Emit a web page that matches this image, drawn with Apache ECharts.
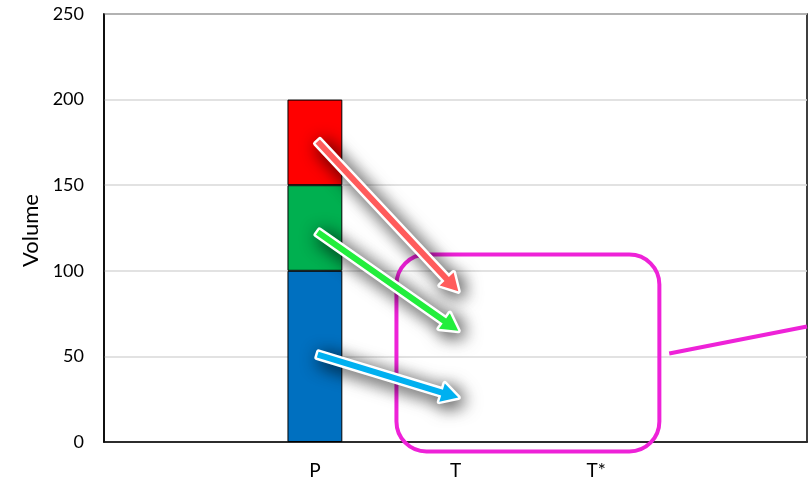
<!DOCTYPE html>
<html><head><meta charset="utf-8">
<script src="https://cdn.jsdelivr.net/npm/echarts@6/dist/echarts.min.js"></script>
<style>html,body{margin:0;padding:0;background:#fff}#c{width:808px;height:484px}</style>
</head><body><div id="c"></div>
<script>
var categories = ['', 'P', 'T', 'T*', ''];
var blueVals  = ['-', 100, '-', '-', '-'];
var greenVals = ['-', 50, '-', '-', '-'];
var redVals   = ['-', 50, '-', '-', '-'];
var yTicks = [0, 50, 100, 150, 200, 250];
// arrows: [xStart(index), yStart, xEnd(index), yEnd]
var arrowRed   = [1.02, 175.5, 2.02, 88];
var arrowGreen = [1.02, 122.5, 2.02, 65];
var arrowBlue  = [1.02, 51, 2.02, 26];
var arrowColors = ['#FF5B5B', '#22EE3C', '#00B0F0'];
// rounded box: [x0, yTop, x1, yBottom]
var boxRect = [1.58, 109.5, 3.45, -5.5];
// connector line: [x0, y0, x1, y1]
var connector = [3.52, 51.7, 4.5, 67.5];

var chart = echarts.init(document.getElementById('c'));
var FONT = 'Lato, "Open Sans", sans-serif';

function arrowPts(p0, p1, w, L, H) {
  var dx = p1[0]-p0[0], dy = p1[1]-p0[1];
  var len = Math.sqrt(dx*dx+dy*dy);
  var ux = dx/len, uy = dy/len, nx = -uy, ny = ux;
  var bx = p1[0]-ux*L, by = p1[1]-uy*L;
  return [
    [p0[0]+nx*w, p0[1]+ny*w],
    [bx+nx*w, by+ny*w],
    [bx+nx*H, by+ny*H],
    [p1[0], p1[1]],
    [bx-nx*H, by-ny*H],
    [bx-nx*w, by-ny*w],
    [p0[0]-nx*w, p0[1]-ny*w]
  ];
}

function arrowItem(params, api) {
  var p0 = api.coord([api.value(0), api.value(1)]);
  var p1 = api.coord([api.value(2), api.value(3)]);
  var pts = arrowPts(p0, p1, 3, 17, 9.5);
  return {
    type: 'group',
    children: [{
      type: 'polygon', shape: {points: pts},
      style: {fill: '#fff', stroke: '#fff', lineWidth: 5, lineJoin: 'round',
        shadowBlur: 18, shadowColor: 'rgba(0,0,0,0.7)', shadowOffsetX: 4, shadowOffsetY: 4}
    }, {
      type: 'polygon', shape: {points: pts},
      style: {fill: arrowColors[params.dataIndex], stroke: 'none'}
    }]
  };
}

function boxItem(params, api) {
  var a = api.coord([api.value(0), api.value(1)]);
  var b = api.coord([api.value(2), api.value(3)]);
  return {
    type: 'rect',
    shape: {x: a[0], y: a[1], width: b[0]-a[0], height: b[1]-a[1], r: 30},
    style: {fill: 'none', stroke: '#EE22D8', lineWidth: 4}
  };
}

function lineItem(params, api) {
  var a = api.coord([api.value(0), api.value(1)]);
  var b = api.coord([api.value(2), api.value(3)]);
  return {
    type: 'line',
    shape: {x1: a[0], y1: a[1], x2: b[0], y2: b[1]},
    style: {stroke: '#EE22D8', lineWidth: 4}
  };
}

chart.setOption({
  animation: false,
  grid: {left: 104, right: 1, top: 14, bottom: 42, show: true, borderColor: '#000', borderWidth: 1.5},
  xAxis: [{
    type: 'category', data: categories,
    axisLine: {lineStyle: {color: '#000', width: 1.5}},
    axisTick: {show: false},
    axisLabel: {color: '#000', fontSize: 19, fontFamily: FONT, margin: 19}
  }, {
    type: 'value', min: -0.5, max: 4.5, show: false
  }],
  yAxis: {
    type: 'value', min: yTicks[0], max: yTicks[yTicks.length-1], interval: 50,
    name: 'Volume', nameLocation: 'middle', nameGap: 54, nameRotate: 90,
    nameTextStyle: {color: '#000', fontSize: 22, fontFamily: FONT, padding: [0,0,0,-5]},
    axisLine: {show: true, onZero: false, lineStyle: {color: '#000', width: 1.5}},
    axisTick: {show: false},
    splitLine: {lineStyle: {color: '#d9d9d9', width: 1.5}},
    axisLabel: {color: '#000', fontSize: 18, fontFamily: FONT, margin: 20}
  },
  series: [
    {type: 'bar', stack: 's', data: blueVals, barWidth: '39%', itemStyle: {color: '#0070C0', borderColor: '#000', borderWidth: 1}},
    {type: 'bar', stack: 's', data: greenVals, barWidth: '39%', itemStyle: {color: '#00B050', borderColor: '#000', borderWidth: 1}},
    {type: 'bar', stack: 's', data: redVals, barWidth: '39%', itemStyle: {color: '#FF0000', borderColor: '#000', borderWidth: 1}},
    {type: 'custom', xAxisIndex: 1, clip: false, z: 3, renderItem: boxItem, data: [boxRect]},
    {type: 'custom', xAxisIndex: 1, clip: false, z: 3, renderItem: lineItem, data: [connector]},
    {type: 'custom', xAxisIndex: 1, clip: false, z: 4, renderItem: arrowItem, data: [arrowRed, arrowGreen, arrowBlue]}
  ]
});
</script>
</body></html>
